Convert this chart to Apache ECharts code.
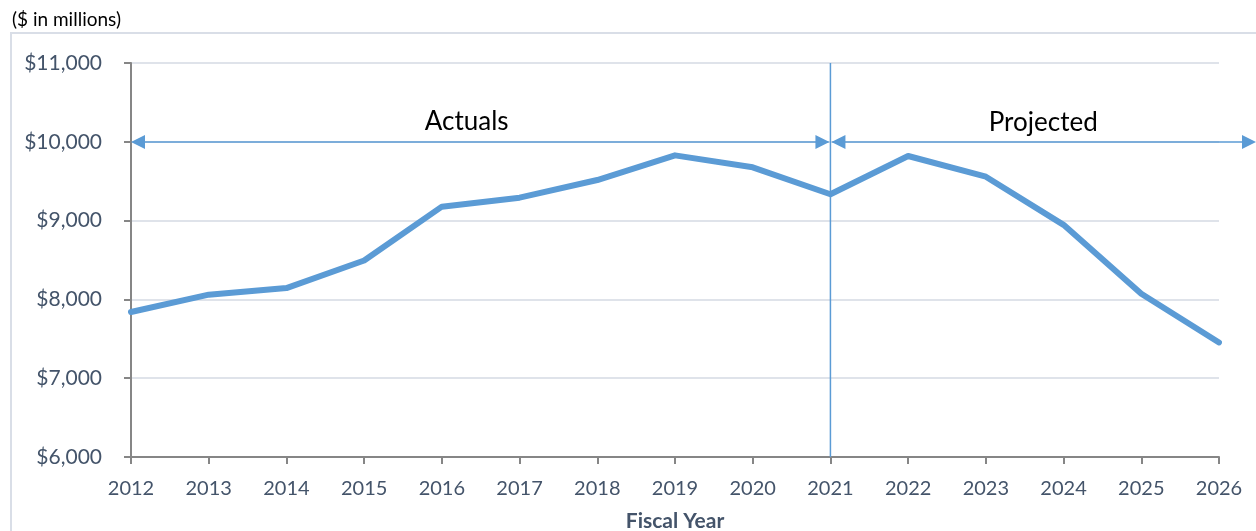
<!DOCTYPE html>
<html>
<head>
<meta charset="utf-8">
<script src="https://cdn.jsdelivr.net/npm/echarts@6/dist/echarts.min.js"></script>
<style>
  html, body { margin: 0; padding: 0; background: #fff; }
  #chart { width: 1256px; height: 531px; }
</style>
</head>
<body>
<div id="chart"></div>
<script>
// Fiscal years on the category axis
const years = ['2012', '2013', '2014', '2015', '2016', '2017', '2018', '2019',
               '2020', '2021', '2022', '2023', '2024', '2025', '2026'];
// Revenue, $ in millions (actuals through 2021, projected afterwards)
const revenue = [7840, 8060, 8144, 8494, 9177, 9291, 9515, 9828,
                 9676, 9334, 9820, 9557, 8946, 8072, 7454];
// Value-axis range and step
const yMin = 6000;
const yMax = 11000;
const yStep = 1000;
// Period annotations
const splitYear = '2021';
const arrowLevel = 10000;
const periodLabels = ['Actuals', 'Projected'];

const BLUE = '#5B9BD5';
const TEXT = '#44546A';
const FONT = 'Lato, "Open Sans", sans-serif';

const chart = echarts.init(document.getElementById('chart'), null, { renderer: 'canvas' });

function money(v) {
  return '$' + v.toLocaleString('en-US');
}

chart.setOption({
  animation: false,
  backgroundColor: '#fff',
  textStyle: { fontFamily: FONT },
  grid: { left: 131, right: 37, top: 63, bottom: 74, containLabel: false, outerBoundsMode: 'none' },
  xAxis: {
    type: 'category',
    data: years,
    boundaryGap: false,
    name: 'Fiscal Year',
    nameLocation: 'middle',
    nameGap: 54,
    nameTextStyle: { color: TEXT, fontSize: 21, fontWeight: 'bold', fontFamily: FONT },
    axisLine: { lineStyle: { color: '#868686', width: 2 } },
    axisTick: { show: true, length: 7, alignWithLabel: true, lineStyle: { color: '#868686', width: 2 } },
    axisLabel: { color: TEXT, fontSize: 20, margin: 22, fontFamily: FONT },
    splitLine: { show: false }
  },
  yAxis: {
    type: 'value',
    min: yMin,
    max: yMax,
    interval: yStep,
    axisLine: { show: true, lineStyle: { color: '#868686', width: 2 } },
    axisTick: { show: true, length: 7, lineStyle: { color: '#868686', width: 2 } },
    axisLabel: { color: TEXT, fontSize: 21, margin: 29, fontFamily: FONT, formatter: money },
    splitLine: { show: true, lineStyle: { color: '#DFE3EA', width: 2 } }
  },
  series: [{
    type: 'line',
    data: revenue,
    symbol: 'none',
    lineStyle: { color: BLUE, width: 6, cap: 'round', join: 'round' },
    z: 3
  }]
});

// Annotation layer: period divider, span arrows and their labels
function drawAnnotations() {
  const W = chart.getWidth();
  const p0 = chart.convertToPixel({ gridIndex: 0 }, [years[0], arrowLevel]);
  const pm = chart.convertToPixel({ gridIndex: 0 }, [splitYear, arrowLevel]);
  const pTop = chart.convertToPixel({ gridIndex: 0 }, [splitYear, yMax]);
  const pBot = chart.convertToPixel({ gridIndex: 0 }, [splitYear, yMin]);
  const y = Math.round(p0[1]);
  const xs = p0[0], xm = pm[0], xe = W;
  const L = 14, H = 7;

  // triangle head pointing in direction dir (+1 right, -1 left) with tip at tx
  function head(tx, dir) {
    return {
      type: 'polygon',
      shape: { points: [[tx, y], [tx - dir * L, y - H], [tx - dir * L, y + H]] },
      style: { fill: BLUE },
      z: 10
    };
  }
  function shaft(x1, x2) {
    return {
      type: 'line',
      shape: { x1: x1, y1: y, x2: x2, y2: y },
      style: { stroke: BLUE, lineWidth: 1.5 },
      z: 9
    };
  }

  const els = [
    // chart frame
    {
      type: 'rect',
      shape: { x: 11, y: 33, width: W + 100, height: 600 },
      style: { fill: 'none', stroke: '#D9DEE7', lineWidth: 2 },
      z: -10, silent: true
    },
    // top-left unit note
    {
      type: 'text',
      x: 12, y: 20,
      style: { text: '($ in millions)', fill: '#000', font: '19px ' + FONT, textVerticalAlign: 'middle' },
      z: 10
    },
    // divider between actual and projected years
    {
      type: 'line',
      shape: { x1: xm, y1: pTop[1], x2: xm, y2: pBot[1] },
      style: { stroke: BLUE, lineWidth: 1.5 },
      z: 8
    },
    shaft(xs + 2, xm - 2),
    shaft(xm + 2, xe - 2),
    head(xs, -1),
    head(xm - 1, 1),
    head(xm + 1, -1),
    head(xe, 1),
    {
      type: 'text',
      x: (xs + xm) / 2 - 14, y: 122,
      style: { text: periodLabels[0], fill: '#000', font: '26px ' + FONT, textAlign: 'center', textVerticalAlign: 'middle' },
      z: 10
    },
    {
      type: 'text',
      x: (xm + xe) / 2, y: 123,
      style: { text: periodLabels[1], fill: '#000', font: '26px ' + FONT, textAlign: 'center', textVerticalAlign: 'middle' },
      z: 10
    }
  ];
  chart.setOption({ graphic: els });
}

drawAnnotations();
</script>
</body>
</html>
